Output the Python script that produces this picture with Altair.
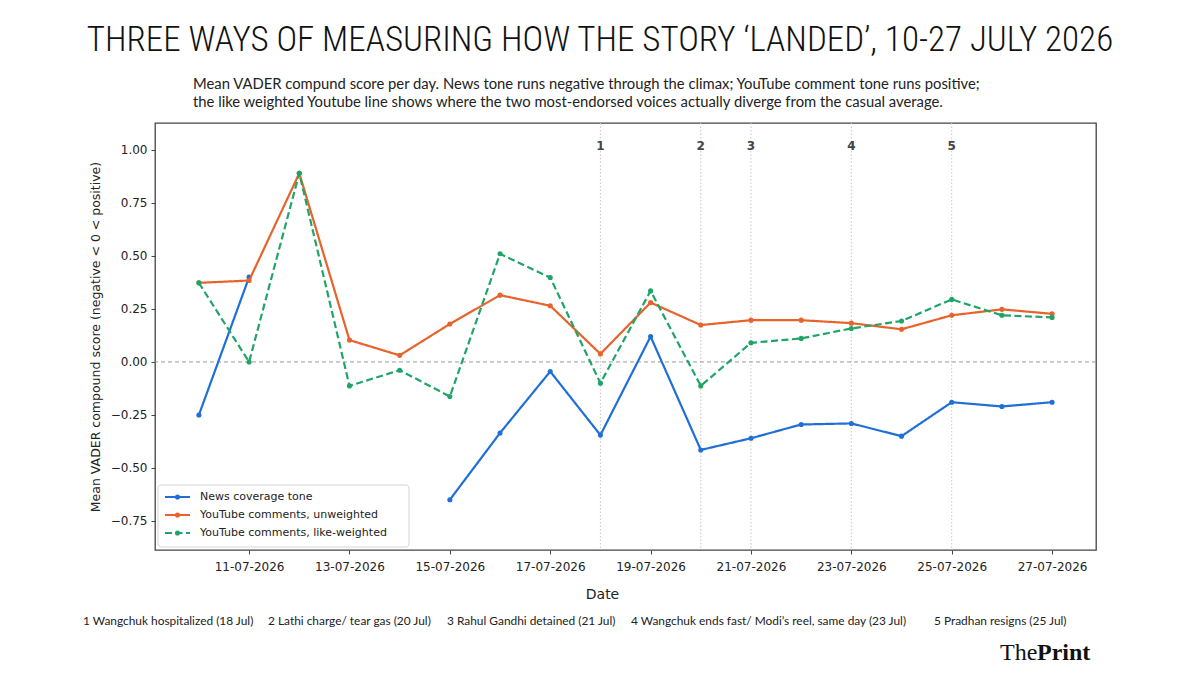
import altair as alt
import pandas as pd

# ---------------- data ----------------
dates = [f"2026-07-{d:02d}" for d in range(10, 28)]
series_names = ["News coverage tone", "YouTube comments, unweighted", "YouTube comments, like-weighted"]
news = [-0.25, 0.40, None, None, None, -0.65, -0.335, -0.045, -0.345, 0.12,
        -0.415, -0.36, -0.295, -0.29, -0.35, -0.19, -0.21, -0.19]
unweighted = [0.373, 0.384, 0.89, 0.103, 0.031, 0.179, 0.315, 0.265, 0.038, 0.28,
              0.174, 0.197, 0.197, 0.183, 0.154, 0.22, 0.248, 0.227]
weighted = [0.373, 0.0, 0.89, -0.113, -0.039, -0.163, 0.51, 0.398, -0.10, 0.335,
            -0.113, 0.09, 0.111, 0.158, 0.193, 0.295, 0.22, 0.21]

event_dates = ["2026-07-18", "2026-07-20", "2026-07-21", "2026-07-23", "2026-07-25"]
event_labels = ["1", "2", "3", "4", "5"]
event_notes = ["1 Wangchuk hospitalized (18 Jul)", "2 Lathi charge/ tear gas (20 Jul)",
               "3 Rahul Gandhi detained (21 Jul)",
               "4 Wangchuk ends fast/ Modi\u2019s reel, same day (23 Jul)",
               "5 Pradhan resigns (25 Jul)"]
x_tick_days = [11, 13, 15, 17, 19, 21, 23, 25, 27]
y_ticks = [-0.75, -0.5, -0.25, 0.0, 0.25, 0.5, 0.75, 1.0]

title_text = "THREE WAYS OF MEASURING HOW THE STORY \u2018LANDED\u2019, 10-27 JULY 2026"
subtitle_lines = [
    "Mean VADER compund score per day. News tone runs negative through the climax; YouTube comment tone runs positive;",
    "the like weighted Youtube line shows where the two most-endorsed voices actually diverge from the casual average.",
]

# ---------------- styles / layout ----------------
colors = ["#1f6fd6", "#e8632b", "#20a468"]
dashes = [[1, 0], [1, 0], [7, 3.5]]
W, H = 941, 427
note_x = [-72, 113, 292, 476, 779]   # relative to plot left
legend_rows = [374, 392, 410]
TITLE_FONT = "Roboto Condensed, DejaVu Sans Condensed, Roboto"
SUB_FONT = "Lato"

rows = []
for name, vals in zip(series_names, [news, unweighted, weighted]):
    seg = 0
    for d, v in zip(dates, vals):
        if v is None:
            seg += 1
            continue
        rows.append({"date": d, "value": v, "series": name, "seg": f"{name}-{seg}"})
df = pd.DataFrame(rows)

xscale = alt.Scale(type="utc",
                   domain=[alt.DateTime(year=2026, month=7, date=9, hours=3, utc=True),
                           alt.DateTime(year=2026, month=7, date=27, hours=21, utc=True)])
yscale = alt.Scale(domain=[-0.887, 1.127], nice=False, zero=False)

xaxis = alt.Axis(values=[alt.DateTime(year=2026, month=7, date=d, utc=True) for d in x_tick_days],
                 labelExpr="utcFormat(datum.value, '%d-%m-%Y')", title="Date", titleX=447,
                 titleAlign="center", labelPadding=7, titlePadding=15, titleFontSize=14)
yaxis = alt.Axis(values=y_ticks, format=".2f",
                 title="Mean VADER compound score (negative < 0 < positive)",
                 labelPadding=4, titlePadding=8, titleFontSize=12.5)

X = alt.X("date:T", scale=xscale, axis=xaxis)
Y = alt.Y("value:Q", scale=yscale, axis=yaxis)

one = alt.Data(values=[{}])

layers = []
# event lines
ev_df = pd.DataFrame({"date": event_dates, "label": event_labels})
layers.append(alt.Chart(ev_df).mark_rule(color="#c8c8c8", strokeWidth=1, strokeDash=[1.5, 2]).encode(x=X))
layers.append(alt.Chart(ev_df).mark_text(color="#444", fontWeight="bold", fontSize=12,
                                         font="DejaVu Sans", baseline="middle").encode(
    x=X, y=alt.value(23), text="label:N"))
# zero line
layers.append(alt.Chart(one).mark_rule(color="#9a9a9a", strokeWidth=1, strokeDash=[4, 3]).encode(
    y=alt.Y(datum=0, scale=yscale, axis=yaxis)))

for name, c, dsh in zip(series_names, colors, dashes):
    sub = alt.Chart(df).transform_filter(alt.datum.series == name)
    layers.append(sub.mark_line(color=c, strokeWidth=2.2, strokeDash=dsh).encode(
        x=X, y=Y, detail="seg:N"))
    layers.append(sub.mark_circle(color=c, size=26, opacity=1).encode(x=X, y=Y))

# legend
layers.append(alt.Chart(one).mark_rect(fill="white", fillOpacity=0.85, stroke="#d5d5d5",
                                       strokeWidth=1, cornerRadius=3).encode(
    x=alt.value(3), x2=alt.value(254), y=alt.value(362), y2=alt.value(424)))
for name, c, dsh, ry in zip(series_names, colors, dashes, legend_rows):
    layers.append(alt.Chart(one).mark_rule(color=c, strokeWidth=2.2, strokeDash=dsh).encode(
        x=alt.value(10), x2=alt.value(35), y=alt.value(ry)))
    layers.append(alt.Chart(one).mark_circle(color=c, size=26, opacity=1).encode(
        x=alt.value(22.5), y=alt.value(ry)))
    layers.append(alt.Chart(one).mark_text(align="left", baseline="middle", fontSize=11,
                                           font="DejaVu Sans", color="#222").encode(
        x=alt.value(45), y=alt.value(ry), text=alt.value(name)))

# title and subtitle
layers.append(alt.Chart(one).mark_text(align="center", baseline="middle", fontSize=35,
                                       font=TITLE_FONT, fontWeight=300, color="#111").encode(
    x=alt.value(600 - 155), y=alt.value(-83), text=alt.value(title_text)))
for i, line in enumerate(subtitle_lines):
    layers.append(alt.Chart(one).mark_text(align="left", baseline="middle", fontSize=14.8,
                                           font=SUB_FONT, color="#222").encode(
        x=alt.value(193 - 155), y=alt.value(-38 + 18 * i), text=alt.value(line)))

# footnotes
for nx, note in zip(note_x, event_notes):
    layers.append(alt.Chart(one).mark_text(align="left", baseline="middle", fontSize=11.9,
                                           font="Lato", color="#222").encode(
        x=alt.value(nx), y=alt.value(498), text=alt.value(note)))

# logo
layers.append(alt.Chart(one).mark_text(align="left", baseline="alphabetic", fontSize=24,
                                       font="Liberation Serif", color="#111").encode(
    x=alt.value(1000 - 155), y=alt.value(537), text=alt.value("The")))
layers.append(alt.Chart(one).mark_text(align="left", baseline="alphabetic", fontSize=24,
                                       font="Liberation Serif", fontWeight="bold", color="#111").encode(
    x=alt.value(1037 - 155), y=alt.value(537), text=alt.value("Print")))

chart = alt.layer(*layers).properties(
    width=W, height=H,
    autosize=alt.AutoSizeParams(type="none"),
    padding={"left": 155, "top": 123, "right": 104, "bottom": 125},
    background="white",
).configure_view(stroke="#444", strokeWidth=1.3).configure_axis(
    grid=False, domain=False, tickColor="#444", tickSize=4, labelColor="#222",
    labelFont="DejaVu Sans", labelFontSize=12, titleFont="DejaVu Sans",
    titleFontWeight="normal", titleColor="#222")

chart.save("out.html", embed_options={"renderer": "svg", "actions": False})
